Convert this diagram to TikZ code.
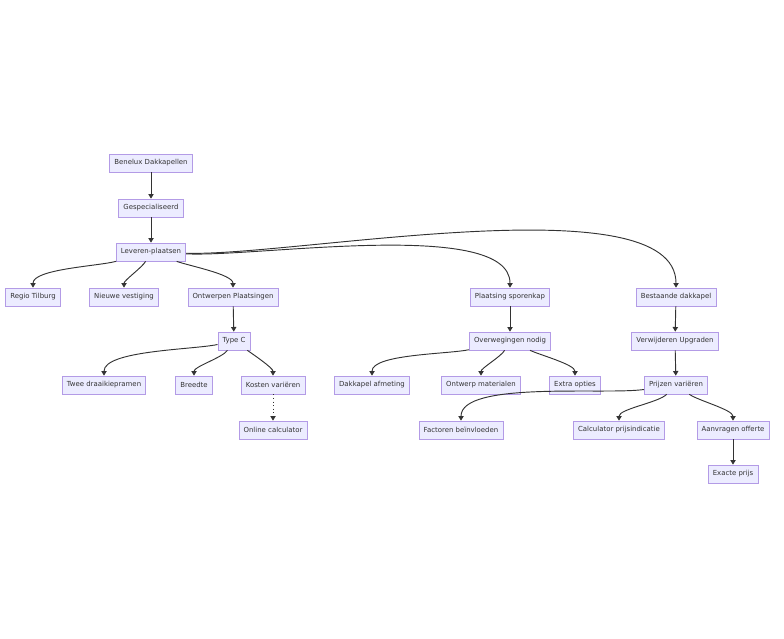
\documentclass[tikz,border=0pt]{standalone}
\usepackage{fontspec}
\setmainfont{DejaVu Sans}
\usetikzlibrary{arrows.meta}
\definecolor{nfill}{HTML}{ECECFF}
\definecolor{nline}{HTML}{9370DB}
\definecolor{eline}{HTML}{333333}
\definecolor{tcol}{HTML}{333333}
\begin{document}
\begin{tikzpicture}[x=0.75pt,y=-0.75pt,
  box/.style={draw=nline!70,fill=nfill,line width=0.5pt,inner xsep=3.5pt,minimum height=13.5pt,font=\fontsize{5.2}{6}\selectfont,text=tcol},
  edge/.style={draw=eline,line width=0.7pt,-{Triangle[length=3.5pt,width=4pt]}},
  cv/.style={edge,looseness=0.55}]
\useasboundingbox (0,0) rectangle (784,638);
\node[box] (ben) at (151,163) {Benelux Dakkapellen};
\node[box] (ges) at (151,208) {Gespecialiseerd};
\node[box] (lev) at (151,252) {Leveren-plaatsen};
\node[box] (reg) at (33,297) {Regio Tilburg};
\node[box] (nie) at (124,297) {Nieuwe vestiging};
\node[box] (ont) at (233,297) {Ontwerpen Plaatsingen};
\node[box] (pla) at (510,297) {Plaatsing sporenkap};
\node[box] (bes) at (676,297) {Bestaande dakkapel};
\node[box] (typ) at (234,341) {Type C};
\node[box] (ove) at (510,341) {Overwegingen nodig};
\node[box] (ver) at (675,341) {Verwijderen Upgraden};
\node[box] (twe) at (104,385) {Twee draaikiepramen};
\node[box] (bre) at (194,385) {Breedte};
\node[box] (kos) at (273,385) {Kosten variëren};
\node[box] (dak) at (372,385) {Dakkapel afmeting};
\node[box] (owm) at (481,385) {Ontwerp materialen};
\node[box] (ext) at (575,385) {Extra opties};
\node[box] (pri) at (676,385) {Prijzen variëren};
\node[box] (onl) at (273,430) {Online calculator};
\node[box] (fac) at (461,430) {Factoren beïnvloeden};
\node[box] (cal) at (619,430) {Calculator prijsindicatie};
\node[box] (aan) at (733,430) {Aanvragen offerte};
\node[box] (exa) at (733,474) {Exacte prijs};
\draw[edge] (ben) -- (ges);
\draw[edge] (ges) -- (lev);
\draw[cv] (lev) to[out=195,in=90] (reg);
\draw[cv] (lev) to[out=240,in=90] (nie);
\draw[cv] (lev) to[out=-20,in=90] (ont);
\draw[cv] (lev) to[out=-3,in=90] (pla);
\draw[cv] (lev) to[out=-2,in=90] (bes);
\draw[edge] (ont) -- (typ);
\draw[edge] (pla) -- (ove);
\draw[edge] (bes) -- (ver);
\draw[cv] (typ) to[out=192,in=90] (twe);
\draw[cv] (typ) to[out=235,in=90] (bre);
\draw[cv] (typ) to[out=-35,in=90] (kos);
\draw[edge,dotted] (kos) -- (onl);
\draw[cv] (ove) to[out=192,in=90] (dak);
\draw[cv] (ove) to[out=240,in=90] (owm);
\draw[cv] (ove) to[out=-25,in=90] (ext);
\draw[edge] (ver) -- (pri);
\draw[cv] (pri) to[out=188,in=90] (fac);
\draw[cv] (pri) to[out=225,in=90] (cal);
\draw[cv] (pri) to[out=-35,in=90] (aan);
\draw[edge] (aan) -- (exa);
\end{tikzpicture}
\end{document}
